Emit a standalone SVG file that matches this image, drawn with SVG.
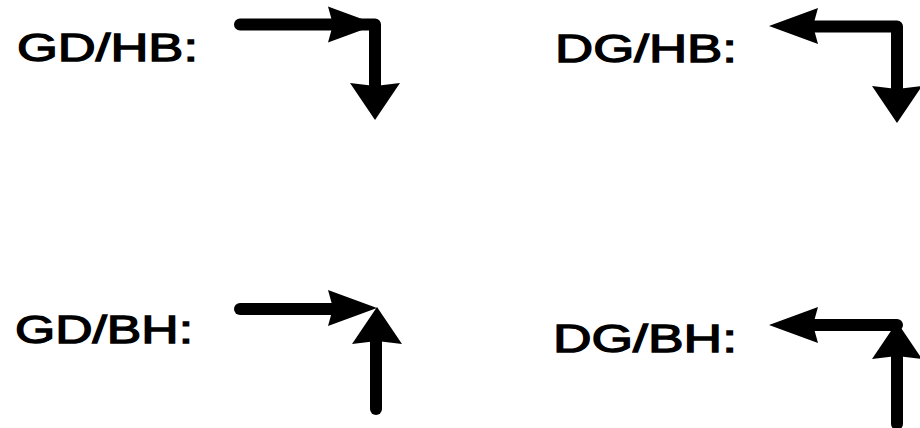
<svg xmlns="http://www.w3.org/2000/svg" xmlns:xlink="http://www.w3.org/1999/xlink" width="920" height="428" viewBox="0 0 920 428">
  <style>
    .lbl { font-family: "Liberation Sans", Arial, sans-serif; font-size: 39px; font-weight: normal; fill: #000; stroke: #000; stroke-width: 1.3; }
    .shaft { fill: none; stroke: #000; stroke-width: 12; stroke-linecap: round; stroke-linejoin: round; }
    .head { fill: #000; stroke: none; }
  </style>
  <defs>
    <!-- Slim head used on horizontal legs; tip at origin, pointing +x -->
    <path id="headH" class="head" d="M0,0 L-49,-18 L-44,0 L-49,18 Z"/>
    <!-- Broad head used on vertical legs; tip at origin, pointing +x -->
    <path id="headV" class="head" d="M0,0 L-37,-25 L-34,0 L-37,25 Z"/>
  </defs>
  <rect width="920" height="428" fill="#fff"/>

  <!-- GD/HB: right then down -->
  <g id="gd-hb">
    <text class="lbl" x="17" y="61" textLength="181" lengthAdjust="spacingAndGlyphs">GD/HB:</text>
    <path class="shaft" d="M240,24.5 H375 V88"/>
    <use xlink:href="#headH" transform="translate(377,24.5)"/>
    <use xlink:href="#headV" transform="translate(375,120) rotate(90)"/>
  </g>

  <!-- DG/HB: left then down -->
  <g id="dg-hb">
    <text class="lbl" x="555" y="62" textLength="182" lengthAdjust="spacingAndGlyphs">DG/HB:</text>
    <path class="shaft" d="M812,26.5 H897 V92"/>
    <use xlink:href="#headH" transform="translate(769,26) rotate(180)"/>
    <use xlink:href="#headV" transform="translate(897,123) rotate(90)"/>
  </g>

  <!-- GD/BH: right then up -->
  <g id="gd-bh">
    <text class="lbl" x="15" y="343" textLength="178" lengthAdjust="spacingAndGlyphs">GD/BH:</text>
    <path class="shaft" d="M240,309 H340"/>
    <path class="shaft" d="M376,409 V340"/>
    <use xlink:href="#headH" transform="translate(377,308)"/>
    <use xlink:href="#headV" transform="translate(377,307) rotate(-90)"/>
  </g>

  <!-- DG/BH: left then up -->
  <g id="dg-bh">
    <text class="lbl" x="553" y="352" textLength="184" lengthAdjust="spacingAndGlyphs">DG/BH:</text>
    <path class="shaft" d="M812,325 H897"/>
    <path class="shaft" d="M897,424 V355"/>
    <use xlink:href="#headH" transform="translate(769,325) rotate(180)"/>
    <use xlink:href="#headV" transform="translate(897,322) rotate(-90)"/>
  </g>
</svg>
